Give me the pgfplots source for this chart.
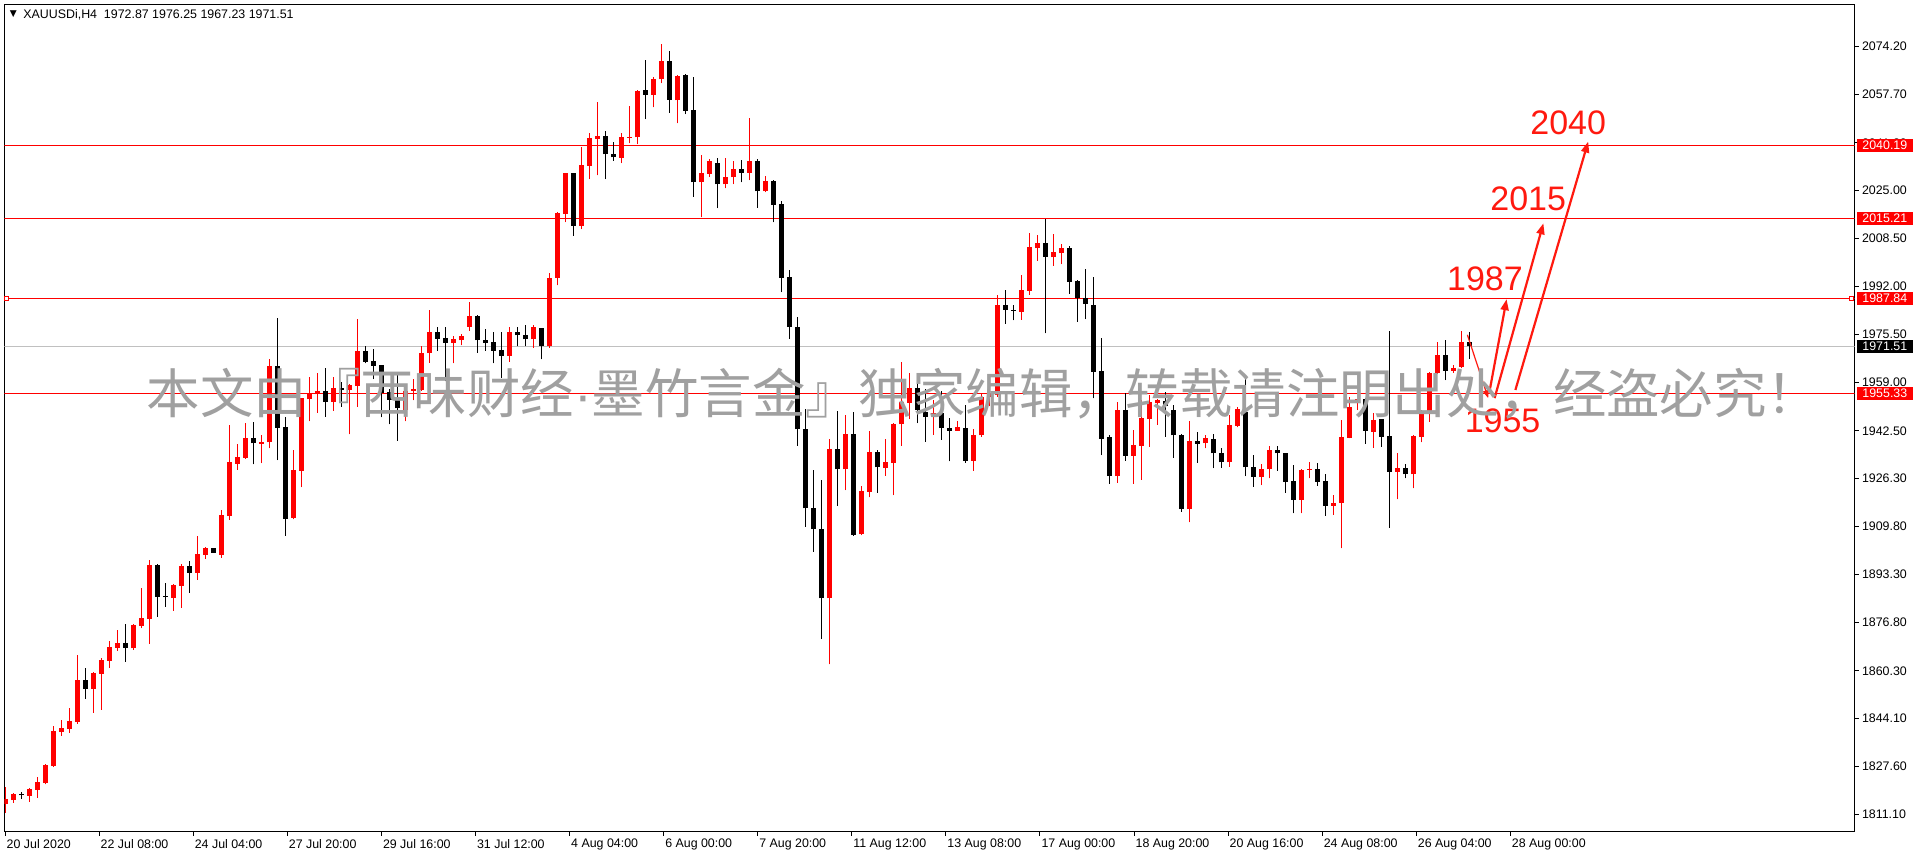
\documentclass[border=0pt]{standalone}
\usepackage{fontspec}
\setmainfont{Liberation Sans}
\newfontfamily\cjk{Noto Sans CJK SC}
\newfontfamily\dejavu{DejaVu Sans}
\newfontfamily\lat{Liberation Sans}
\usepackage{pgfplots}
\usepackage{pgfplotstable}
\pgfplotsset{compat=1.18}
\usetikzlibrary{arrows.meta}

\definecolor{mtred}{RGB}{255,0,0}
\definecolor{wm}{RGB}{160,160,160}
\definecolor{bidline}{RGB}{192,192,192}
\definecolor{arrred}{RGB}{255,25,15}

% bull (red) candles: x o h l c
\pgfplotstableread{
x o h l c
0 1814.75 1820.6 1811.7 1816.35
1 1816.0 1818.5 1815.1 1818.06
3 1817.5 1820.1 1815.4 1819.77
4 1819.5 1823.9 1816.8 1822.2
5 1821.8 1828.5 1821.4 1828.0
6 1827.65 1841.4 1827.4 1839.65
7 1839.4 1843.4 1838.1 1840.8
8 1840.3 1847.5 1839.1 1843.07
9 1842.7 1865.7 1842.2 1857.1
11 1854.2 1860.0 1845.9 1859.5
12 1859.3 1864.7 1847.0 1864.0
13 1863.7 1870.5 1861.4 1868.4
14 1868.2 1874.3 1867.2 1869.8
16 1868.0 1876.3 1867.5 1876.0
17 1875.75 1888.6 1874.9 1878.4
18 1878.0 1898.2 1869.6 1896.5
21 1885.3 1890.0 1880.9 1889.7
22 1889.5 1896.9 1881.9 1896.2
24 1893.9 1906.5 1891.5 1900.3
25 1900.1 1902.7 1898.7 1902.4
27 1900.1 1915.4 1899.05 1913.55
28 1913.3 1944.5 1912.1 1931.8
29 1931.3 1938.0 1929.2 1933.5
30 1933.2 1945.2 1933.0 1940.0
32 1938.0 1941.1 1931.4 1938.5
33 1938.5 1967.1 1936.5 1964.7
36 1912.6 1935.9 1912.2 1929.1
37 1928.9 1953.9 1923.2 1953.7
38 1953.3 1961.1 1945.7 1955.4
39 1955.0 1962.2 1948.7 1956.2
41 1952.5 1960.9 1949.4 1957.3
43 1956.5 1958.5 1941.3 1958.2
44 1958.0 1980.8 1950.8 1969.9
50 1949.7 1956.4 1945.7 1956.2
51 1956.2 1960.2 1952.9 1957.0
52 1956.5 1971.6 1956.3 1969.2
53 1969.1 1983.9 1965.9 1976.4
56 1972.7 1975.0 1965.6 1973.9
57 1973.5 1975.7 1971.8 1975.0
58 1978.2 1986.7 1976.8 1981.9
63 1968.3 1977.9 1966.2 1976.2
66 1973.8 1978.8 1971.0 1977.9
68 1971.4 1996.5 1971.0 1994.8
69 1994.8 2017.6 1992.3 2017.1
70 2016.8 2031.0 2014.0 2030.8
72 2012.8 2039.6 2011.6 2033.6
73 2033.4 2044.5 2028.7 2042.7
74 2042.6 2055.3 2030.0 2043.4
77 2036.1 2044.5 2034.2 2043.1
78 2042.9 2053.8 2041.0 2043.2
79 2043.0 2059.4 2040.7 2059.0
81 2057.7 2063.6 2053.3 2063.1
82 2062.9 2075.1 2061.6 2069.2
84 2055.7 2064.4 2047.8 2064.2
87 2027.6 2037.0 2015.6 2030.8
88 2030.6 2035.7 2029.6 2035.0
90 2026.9 2035.9 2025.6 2029.4
91 2029.3 2035.0 2027.0 2032.2
93 2031.0 2049.6 2028.4 2035.0
95 2024.5 2029.8 2024.3 2028.1
103 1885.1 1939.7 1862.5 1936.2
105 1929.3 1947.8 1922.2 1941.3
107 1907.0 1923.7 1906.8 1921.9
108 1921.7 1942.4 1919.7 1935.1
110 1929.7 1939.7 1927.1 1931.7
111 1931.6 1945.2 1920.5 1944.9
112 1944.7 1966.1 1937.4 1952.5
113 1952.2 1962.4 1946.5 1957.1
116 1947.4 1953.1 1941.1 1948.5
119 1942.6 1945.9 1942.5 1943.7
121 1932.2 1943.0 1928.9 1941.1
122 1940.9 1955.4 1940.5 1954.2
123 1954.2 1957.0 1951.0 1955.2
124 1954.8 1989.1 1954.2 1985.6
127 1983.3 1995.9 1980.5 1990.8
128 1990.5 2010.2 1989.1 2005.6
129 2005.0 2009.6 2000.8 2006.8
131 2001.9 2010.0 1999.1 2003.7
132 2003.3 2006.5 1999.6 2005.0
139 1927.0 1952.5 1924.7 1949.6
141 1933.9 1942.8 1924.3 1937.6
142 1937.3 1953.1 1925.7 1946.8
143 1946.5 1954.8 1937.1 1952.5
144 1952.2 1953.3 1944.5 1952.9
148 1915.7 1945.9 1911.1 1939.0
150 1938.2 1941.1 1936.5 1939.9
153 1931.7 1947.9 1930.2 1944.5
154 1944.2 1950.8 1943.7 1949.9
157 1926.8 1931.1 1923.9 1929.3
158 1929.3 1937.3 1926.2 1935.9
162 1918.8 1929.3 1914.2 1929.1
163 1929.1 1931.7 1926.2 1929.4
166 1916.9 1920.5 1913.7 1917.7
167 1917.7 1946.2 1902.2 1940.5
168 1940.2 1954.0 1939.9 1950.6
169 1952.6 1953.4 1949.6 1953.3
171 1942.2 1948.5 1936.7 1946.2
174 1928.5 1934.8 1919.0 1929.7
176 1927.6 1941.1 1922.8 1940.7
177 1940.5 1949.6 1938.5 1948.5
178 1948.5 1962.8 1945.6 1962.2
179 1962.2 1972.8 1962.0 1968.5
181 1963.1 1965.1 1962.4 1963.9
182 1964.5 1976.7 1963.9 1972.8
}\bull

% bear (black) candles: x o h l c
\pgfplotstableread{
x o h l c
2 1817.9 1818.9 1816.5 1817.6
10 1857.1 1861.2 1850.7 1854.2
15 1869.8 1876.3 1863.4 1868.2
19 1896.5 1896.9 1878.8 1885.7
20 1885.8 1890.4 1882.2 1885.5
23 1896.2 1897.9 1887.1 1893.9
26 1902.4 1902.5 1900.7 1900.8
31 1939.9 1945.4 1931.0 1938.2
34 1964.7 1981.3 1932.5 1943.6
35 1943.9 1947.4 1906.5 1912.4
40 1956.2 1964.0 1947.4 1952.5
42 1957.3 1959.1 1950.8 1956.5
45 1969.9 1971.7 1965.6 1966.2
46 1966.4 1970.6 1960.2 1964.8
47 1964.9 1965.0 1947.1 1955.4
48 1955.8 1956.9 1944.7 1953.1
49 1953.1 1961.5 1939.1 1950.2
54 1976.4 1978.2 1970.0 1974.1
55 1974.4 1978.2 1959.4 1972.7
59 1981.9 1982.2 1969.3 1973.5
60 1973.6 1977.4 1970.0 1972.7
61 1972.9 1976.3 1965.6 1970.0
62 1970.2 1976.3 1960.7 1968.3
64 1976.2 1977.9 1971.4 1975.2
65 1975.4 1978.6 1971.4 1973.8
67 1977.6 1977.8 1967.0 1971.4
71 2030.8 2031.0 2009.4 2012.8
75 2043.4 2045.3 2028.7 2037.2
76 2037.3 2041.4 2035.1 2036.2
80 2059.3 2069.6 2049.3 2057.7
83 2069.2 2072.7 2051.5 2055.9
85 2064.4 2064.6 2051.0 2052.2
86 2052.5 2063.6 2022.7 2027.6
89 2034.4 2035.9 2018.8 2026.9
92 2032.2 2035.3 2027.6 2031.0
94 2035.0 2035.6 2019.0 2024.5
96 2028.1 2028.3 2013.9 2019.9
97 2020.2 2021.3 1990.0 1995.0
98 1995.1 1997.6 1974.0 1978.0
99 1978.0 1981.4 1937.4 1943.0
100 1943.0 1949.9 1909.7 1915.9
101 1915.9 1929.1 1901.1 1908.8
102 1908.8 1925.7 1871.2 1885.1
104 1936.2 1949.3 1916.9 1929.3
106 1941.3 1948.9 1906.6 1906.8
109 1935.1 1935.9 1921.3 1930.0
114 1957.1 1959.0 1945.1 1949.6
115 1948.9 1956.7 1938.8 1947.4
117 1948.5 1956.1 1939.4 1943.4
118 1943.4 1947.0 1932.0 1942.6
120 1943.4 1951.4 1931.6 1932.2
125 1985.6 1990.8 1979.1 1983.9
126 1983.9 1985.6 1980.3 1983.6
130 2006.8 2015.1 1975.9 2002.2
133 2005.0 2005.8 1989.4 1993.6
134 1993.9 1994.2 1979.9 1988.1
135 1987.9 1997.8 1980.8 1985.9
136 1985.6 1995.1 1953.6 1962.8
137 1963.0 1974.2 1934.2 1939.7
138 1940.5 1941.1 1924.3 1927.0
140 1949.6 1955.4 1932.3 1933.9
145 1952.7 1955.9 1940.5 1951.0
146 1949.6 1951.4 1933.3 1940.9
147 1941.1 1941.3 1914.8 1915.7
149 1939.0 1942.2 1931.6 1938.1
151 1939.7 1941.4 1929.7 1934.8
152 1934.8 1936.5 1929.9 1931.7
155 1949.1 1960.3 1927.0 1930.0
156 1930.0 1934.2 1923.4 1926.8
159 1935.9 1937.4 1928.9 1934.8
160 1934.8 1934.9 1921.3 1925.1
161 1925.3 1930.8 1914.2 1918.8
164 1929.4 1931.4 1923.7 1925.1
165 1925.3 1927.7 1913.4 1916.9
170 1953.4 1953.6 1938.0 1942.6
172 1946.4 1946.5 1937.1 1940.5
173 1940.7 1976.7 1909.3 1928.5
175 1929.7 1931.0 1926.2 1927.6
180 1968.5 1973.6 1959.9 1963.1
183 1972.87 1976.25 1967.23 1971.51
}\bear

\pgfplotsset{
  candle/.style 2 args={only marks, mark=*, mark size=0pt,
    mark options={draw=none, fill=none}, forget plot,
    error bars/.cd, y dir=plus, y explicit, error mark=none,
    error bar style={draw=#1, line width=#2}},
}
\tikzset{
  pricebox/.style={anchor=west, fill=#1, text=white, inner xsep=2.9pt,
    inner ysep=0pt, minimum height=6.5pt, text width=22.2pt, xshift=0.8pt,
    font=\fontsize{6.2}{7}\selectfont},
}

\begin{document}
\begin{tikzpicture}
\useasboundingbox (-2.25pt,-13.15pt) rectangle (957.75pt,415.85pt);
\begin{axis}[
  at={(0,0)}, anchor=south west,
  scale only axis, width=925.05pt, height=413.65pt,
  xmin=-0.15, xmax=231.1, ymin=1805.15, ymax=2088.6,
  axis line style={line width=0.5pt},
  tick align=outside, major tick length=2pt,
  tick style={black, line width=0.5pt},
  xtick pos=left, ytick pos=right, yticklabel pos=right,
  xtick={-0.075,11.68,23.44,35.20,46.96,58.72,70.48,82.24,93.99,105.75,117.51,129.27,141.03,152.79,164.55,176.31,188.07},
  xticklabels={{20 Jul 2020},{22 Jul 08:00},{24 Jul 04:00},{27 Jul 20:00},{29 Jul 16:00},{31 Jul 12:00},{4 Aug 04:00},{6 Aug 00:00},{7 Aug 20:00},{11 Aug 12:00},{13 Aug 08:00},{17 Aug 00:00},{18 Aug 20:00},{20 Aug 16:00},{24 Aug 08:00},{26 Aug 04:00},{28 Aug 00:00}},
  ytick={2074.2,2057.7,2041.2,2025,2008.5,1992,1975.5,1959,1942.5,1926.3,1909.8,1893.3,1876.8,1860.3,1844.1,1827.6,1811.1},
  yticklabels={2074.20,2057.70,2041.20,2025.00,2008.50,1992.00,1975.50,1959.00,1942.50,1926.30,1909.80,1893.30,1876.80,1860.30,1844.10,1827.60,1811.10},
  ticklabel style={font=\fontsize{6.2}{7}\selectfont, inner sep=0pt},
  xticklabel style={anchor=north west, xshift=0.6pt, yshift=-1.5pt},
  yticklabel style={anchor=west, xshift=1.5pt},
]
% level lines
\addplot[bidline, line width=0.5pt, forget plot] coordinates {(-1,1971.51) (232,1971.51)};
\addplot[mtred, line width=0.5pt, forget plot] coordinates {(-1,2040.19) (232,2040.19)};
\addplot[mtred, line width=0.5pt, forget plot] coordinates {(-1,2015.21) (232,2015.21)};
\addplot[mtred, line width=0.5pt, forget plot] coordinates {(-1,1987.84) (232,1987.84)};
\addplot[mtred, line width=0.5pt, forget plot] coordinates {(-1,1955.33) (232,1955.33)};
\addplot[mtred, only marks, mark=square*, mark size=1pt, mark options={fill=white, line width=0.4pt}] coordinates {(0.05,1987.84) (230.7,1987.84)};

% candles: wicks, then bodies
\addplot[candle={mtred}{0.5pt}] table[x=x, y=l, y error plus expr=\thisrow{h}-\thisrow{l}] {\bull};
\addplot[candle={black}{0.5pt}] table[x=x, y=l, y error plus expr=\thisrow{h}-\thisrow{l}] {\bear};
\addplot[candle={mtred}{2.5pt}] table[x=x, y=o, y error plus expr=\thisrow{c}-\thisrow{o}] {\bull};
\addplot[candle={black}{2.5pt}] table[x=x, y=c, y error plus expr=\thisrow{o}-\thisrow{c}] {\bear};

% hand-drawn forecast arrows
\addplot[arrred, line width=0.6pt, -{Triangle[length=4pt,width=3pt]}] coordinates {(182.7,1975.4) (185.3,1953.7)};
\addplot[arrred, line width=1.1pt, -{Triangle[length=5.5pt,width=4pt]}] coordinates {(185.5,1956.5) (187.6,1987.6)};
\addplot[arrred, line width=1.1pt, -{Triangle[length=5.5pt,width=4pt]}] coordinates {(186.1,1953.7) (192.2,2013.6)};
\addplot[arrred, line width=1.1pt, -{Triangle[length=5.5pt,width=4pt]}] coordinates {(188.7,1956.5) (197.8,2041.6)};

\node[text=arrred, inner sep=0pt, font=\fontsize{17}{18}\selectfont] at (axis cs:195.3,2048.2) {2040};
\node[text=arrred, inner sep=0pt, font=\fontsize{17}{18}\selectfont] at (axis cs:190.3,2022.0) {2015};
\node[text=arrred, inner sep=0pt, font=\fontsize{17}{18}\selectfont] at (axis cs:184.9,1994.5) {1987};
\node[text=arrred, inner sep=0pt, font=\fontsize{17}{18}\selectfont] at (axis cs:187.1,1946.0) {1955};

% watermark
\node[anchor=base west, inner sep=0pt, text=wm, font=\cjk\fontsize{26.7}{27}\selectfont] at (axis cs:17.6,1948.6) {本文由『西味财经{\lat ·}墨竹言金』独家编辑，转载请注明出处，经盗必究！};

% header
\node[inner sep=0pt, font=\dejavu\fontsize{4.5}{5}\selectfont] at (axis cs:0.95,2085.2) {▼};
\node[anchor=west, inner sep=0pt, font=\fontsize{6.2}{7}\selectfont] at (axis cs:2.16,2085.0) {XAUUSDi,H4\ \ 1972.87 1976.25 1967.23 1971.51};

\coordinate (p1) at (axis cs:231.1,2040.19);
\coordinate (p2) at (axis cs:231.1,2015.21);
\coordinate (p3) at (axis cs:231.1,1987.84);
\coordinate (p4) at (axis cs:231.1,1955.33);
\coordinate (p5) at (axis cs:231.1,1971.51);
\end{axis}
\node[pricebox=mtred] at (p1) {2040.19};
\node[pricebox=mtred] at (p2) {2015.21};
\node[pricebox=mtred] at (p3) {1987.84};
\node[pricebox=mtred] at (p4) {1955.33};
\node[pricebox=black] at (p5) {1971.51};
\end{tikzpicture}
\end{document}
